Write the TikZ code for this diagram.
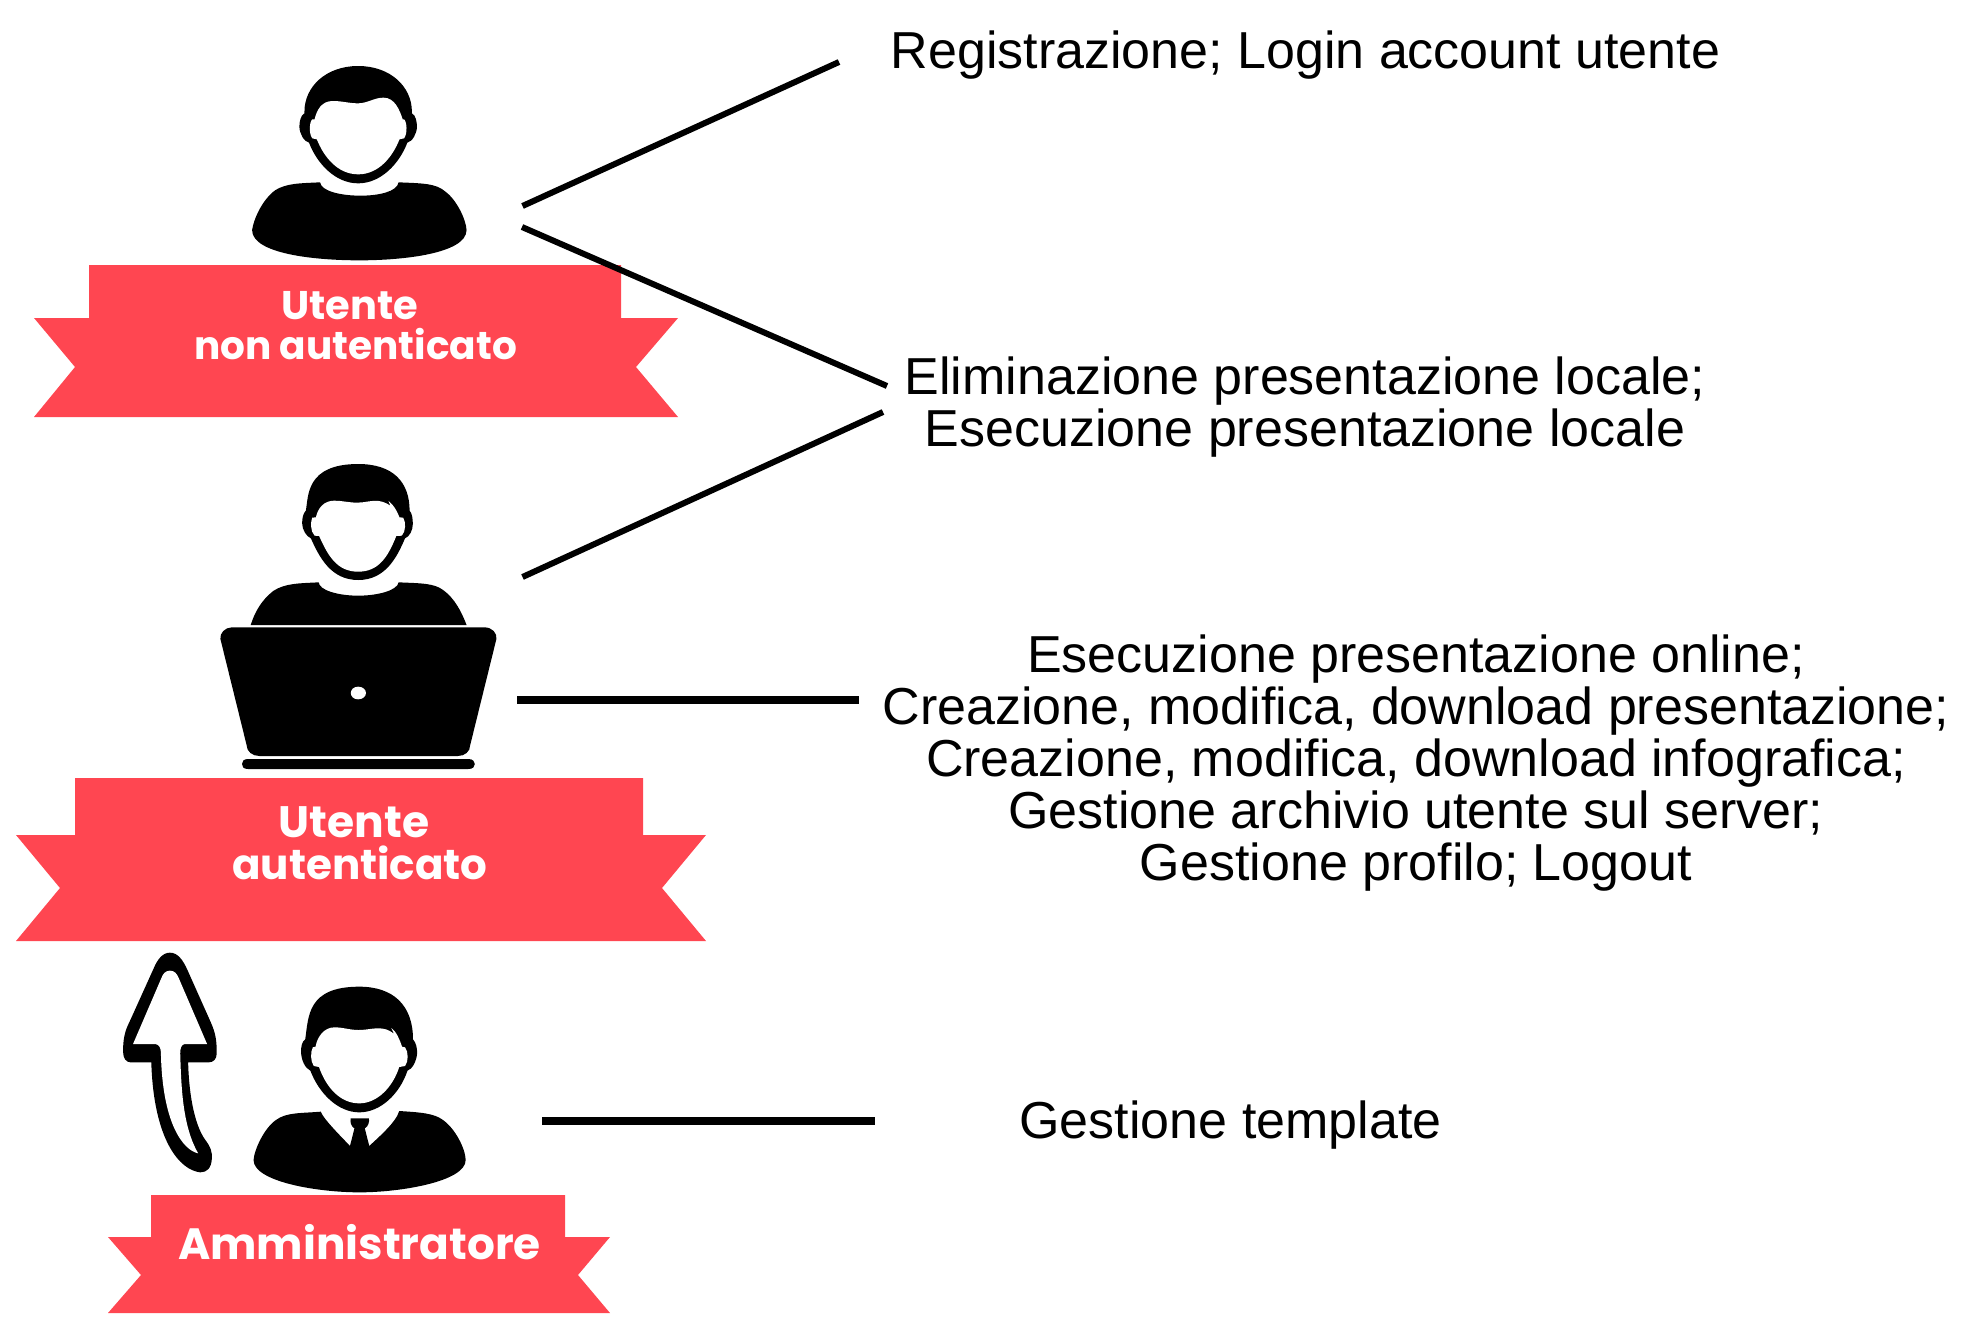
\documentclass[tikz,border=0pt]{standalone}
\usepackage{fontspec}
\setmainfont{Liberation Sans}
\newfontfamily\bannerfont{Poppins}
\definecolor{ribbon}{HTML}{FF4651}
\tikzset{
  x=0.5pt,y=-0.5pt,
  ribbonshape/.style={fill=ribbon,draw=none},
  icon/.style={fill=black,draw=none},
  hole/.style={fill=white,draw=none},
  desc/.style={inner sep=0pt,align=center,font=\fontsize{26}{26}\selectfont},
  desc1/.style={inner sep=0pt,anchor=base,font=\fontsize{26}{26}\selectfont},
  tag/.style={inner sep=0pt,anchor=base,text=white,font=\bannerfont\bfseries\fontsize{#1}{#1}\selectfont},
  link/.style={line width=3pt,black},
  linkh/.style={line width=4pt,black},
}
\begin{document}
\begin{tikzpicture}
\useasboundingbox (0,0) rectangle (1964,1328);
% ribbons
\fill[ribbonshape] (89,265)--(621,265)--(621,318)--(678,318)--(636,367)--(678,417)--(34,417)--(75,367)--(34,318)--(89,318)--cycle;
\fill[ribbonshape] (75,778)--(643,778)--(643,835)--(706,835)--(662,888)--(706,941)--(16,941)--(60,888)--(16,835)--(75,835)--cycle;
\fill[ribbonshape] (151,1195)--(565,1195)--(565,1237)--(610,1237)--(578,1275)--(610,1313)--(108,1313)--(141,1275)--(108,1237)--(151,1237)--cycle;
% person 1
\begin{scope}[shift={(0,40)},xscale=.4592,yscale=.33333]
\fill[icon] (780,78) .. controls (850,78) and (897,140) .. (897,215) -- (897,220) .. controls (905,225) and (908,245) .. (908,260) .. controls (908,280) and (898,305) .. (887,308) .. controls (870,370) and (830,430) .. (780,430) .. controls (730,430) and (690,370) .. (673,308) .. controls (662,305) and (652,280) .. (652,260) .. controls (652,245) and (655,225) .. (663,220) -- (663,215) .. controls (663,140) and (710,78) .. (780,78) -- cycle;
\fill[hole] (780,190) .. controls (800,190) and (815,173) .. (835,173) .. controls (860,173) and (870,210) .. (877,238) -- (880,238) .. controls (886,245) and (888,280) .. (880,295) -- (870,298) .. controls (855,350) and (825,403) .. (780,403) .. controls (735,403) and (705,350) .. (690,298) -- (680,295) .. controls (672,280) and (674,245) .. (680,238) -- (685,238) .. controls (690,210) and (700,183) .. (725,183) .. controls (745,183) and (760,190) .. (780,190) -- cycle;
\fill[icon] (697,427) .. controls (700,455) and (745,467) .. (785,467) .. controls (825,467) and (865,455) .. (868,427) .. controls (920,430) and (950,430) .. (970,455) .. controls (995,480) and (1015,540) .. (1016,570) .. controls (1016,640) and (880,661) .. (783,661) .. controls (680,661) and (549,640) .. (549,570) .. controls (552,540) and (570,480) .. (600,450) .. controls (625,430) and (650,430) .. (697,427) -- cycle;
\end{scope}
% person 2
\begin{scope}[shift={(0,440)},xscale=.4592,yscale=.33333]
\fill[icon] (780,72) .. controls (855,72) and (892,125) .. (892,212) .. controls (898,220) and (899,240) .. (899,252) .. controls (899,270) and (892,290) .. (882,295) .. controls (865,350) and (840,420) .. (780,420) .. controls (720,420) and (695,350) .. (677,295) .. controls (668,290) and (658,270) .. (658,250) .. controls (658,235) and (660,220) .. (666,212) .. controls (672,170) and (665,72) .. (780,72) -- cycle;
\fill[hole] (778,188) .. controls (795,188) and (810,180) .. (825,183) .. controls (835,185) and (842,190) .. (850,197) -- (846,183) .. controls (858,195) and (865,215) .. (870,232) -- (878,233) .. controls (884,245) and (884,275) .. (875,287) -- (863,288) .. controls (845,350) and (825,395) .. (780,395) .. controls (735,395) and (715,350) .. (695,288) -- (685,287) .. controls (676,275) and (676,245) .. (680,233) -- (688,232) .. controls (692,205) and (705,182) .. (728,182) .. controls (745,182) and (760,188) .. (778,188) -- cycle;
\fill[icon] (694,427) .. controls (695,450) and (735,467) .. (780,467) .. controls (825,467) and (866,450) .. (868,427) .. controls (920,430) and (945,430) .. (965,450) .. controls (990,475) and (1005,515) .. (1016,555) -- (546,555) .. controls (555,515) and (570,480) .. (595,453) .. controls (620,430) and (650,430) .. (694,427) -- cycle;
\fill[icon] (505,562) -- (1055,562) .. controls (1072,562) and (1083,580) .. (1081,597) -- (1024,915) .. controls (1024,935) and (1012,948) .. (997,948) -- (565,948) .. controls (550,948) and (537,935) .. (537,915) -- (480,597) .. controls (478,580) and (490,562) .. (505,562) -- cycle;
\fill[icon] (540,957) -- (1020,957) .. controls (1030,957) and (1034,965) .. (1034,972) .. controls (1034,980) and (1030,987) .. (1020,987) -- (540,987) .. controls (530,987) and (527,980) .. (527,972) .. controls (527,965) and (530,957) .. (540,957) -- cycle;
\fill[hole] (780,740) .. controls (790,740) and (797,749) .. (797,759) .. controls (797,769) and (790,778) .. (780,778) .. controls (770,778) and (764,769) .. (764,759) .. controls (764,749) and (770,740) .. (780,740) -- cycle;
\end{scope}
% person 3 and arrow
\begin{scope}[shift={(90,940)},xscale=.34435,yscale=.33333]
\fill[icon] (782,140) .. controls (880,140) and (938,195) .. (938,298) .. controls (948,310) and (950,325) .. (950,340) .. controls (948,365) and (935,388) .. (922,392) .. controls (900,460) and (845,517) .. (782,517) .. controls (720,517) and (665,460) .. (640,392) .. controls (625,385) and (613,360) .. (613,335) .. controls (613,320) and (615,305) .. (625,298) .. controls (635,230) and (630,140) .. (782,140) -- cycle;
\fill[hole] (780,270) .. controls (805,270) and (830,262) .. (850,266) .. controls (865,268) and (875,275) .. (883,282) -- (875,264) .. controls (890,275) and (900,300) .. (906,320) -- (915,322) .. controls (925,335) and (925,365) .. (915,378) -- (898,381) .. controls (880,440) and (835,490) .. (782,490) .. controls (725,490) and (685,440) .. (665,381) -- (650,378) .. controls (640,365) and (640,335) .. (647,322) -- (655,320) .. controls (660,290) and (680,262) .. (710,262) .. controls (735,262) and (755,270) .. (780,270) -- cycle;
\fill[icon] (670,515) .. controls (680,540) and (730,590) .. (755,618) -- (768,565) .. controls (758,560) and (755,545) .. (757,535) -- (810,535) .. controls (812,545) and (808,560) .. (798,565) -- (811,618) .. controls (840,590) and (890,545) .. (898,513) .. controls (960,517) and (1000,520) .. (1025,540) .. controls (1060,565) and (1090,625) .. (1091,660) .. controls (1091,725) and (900,757) .. (783,757) .. controls (660,757) and (475,725) .. (475,660) .. controls (477,630) and (505,565) .. (540,540) .. controls (570,517) and (610,520) .. (670,515) -- cycle;
\fill[icon] (232,38) .. controls (255,38) and (270,60) .. (283,90) -- (350,245) .. controls (365,280) and (368,300) .. (368,340) .. controls (368,358) and (358,367) .. (345,367) -- (285,367) .. controls (287,450) and (300,550) .. (335,600) .. controls (350,620) and (355,635) .. (354,655) .. controls (352,685) and (340,697) .. (320,697) .. controls (260,690) and (185,600) .. (178,367) -- (118,367) .. controls (105,367) and (96,355) .. (96,335) .. controls (96,300) and (100,275) .. (115,245) -- (185,85) .. controls (195,60) and (210,38) .. (232,38) -- cycle;
\fill[hole] (232,92) .. controls (245,92) and (252,100) .. (258,115) -- (340,312) -- (275,312) .. controls (265,314) and (262,325) .. (262,340) .. controls (265,450) and (270,560) .. (314,640) .. controls (270,630) and (210,550) .. (206,340) .. controls (206,325) and (202,314) .. (190,312) -- (125,312) -- (207,115) .. controls (212,100) and (220,92) .. (232,92) -- cycle;
\end{scope}
% ribbon labels
\node[tag=20] (t1a) at (350,319) {Utente};
\node[tag=19.5] (t1b) at (355.5,359) {non autenticato};
\node[tag=22] (t2a) at (354,837) {Utente};
\node[tag=21] (t2b) at (360,879) {autenticato};
\node[tag=21.9] (t3) at (359.5,1259) {Amministratore};
% descriptions
\node[desc1] (d1) at (1305.5,68) {Registrazione; Login account utente};
\node[desc] (d2) at (1305,407.5) {Eliminazione presentazione locale;\\Esecuzione presentazione locale};
\node[desc] (d3) at (1416,763) {Esecuzione presentazione online;\\Creazione, modifica, download presentazione;\\Creazione, modifica, download infografica;\\Gestione archivio utente sul server;\\Gestione profilo; Logout};
\node[desc1] (d4) at (1230.5,1138) {Gestione template};
% connector ends
\coordinate (a1) at (522.5,206);
\coordinate (a2) at (522,227);
\coordinate (a3) at (522.5,577);
\coordinate (a4) at (517,699.5);
\coordinate (a5) at (542,1121);
\coordinate (b1) at (839,62);
\coordinate (b2) at (887,386);
\coordinate (b3) at (883,412);
\coordinate (b4) at (859,699.5);
\coordinate (b5) at (875,1121);
\draw[link] (a1) -- (b1);
\draw[link] (a2) -- (b2);
\draw[link] (a3) -- (b3);
\draw[linkh] (a4) -- (b4);
\draw[linkh] (a5) -- (b5);
\end{tikzpicture}
\end{document}
